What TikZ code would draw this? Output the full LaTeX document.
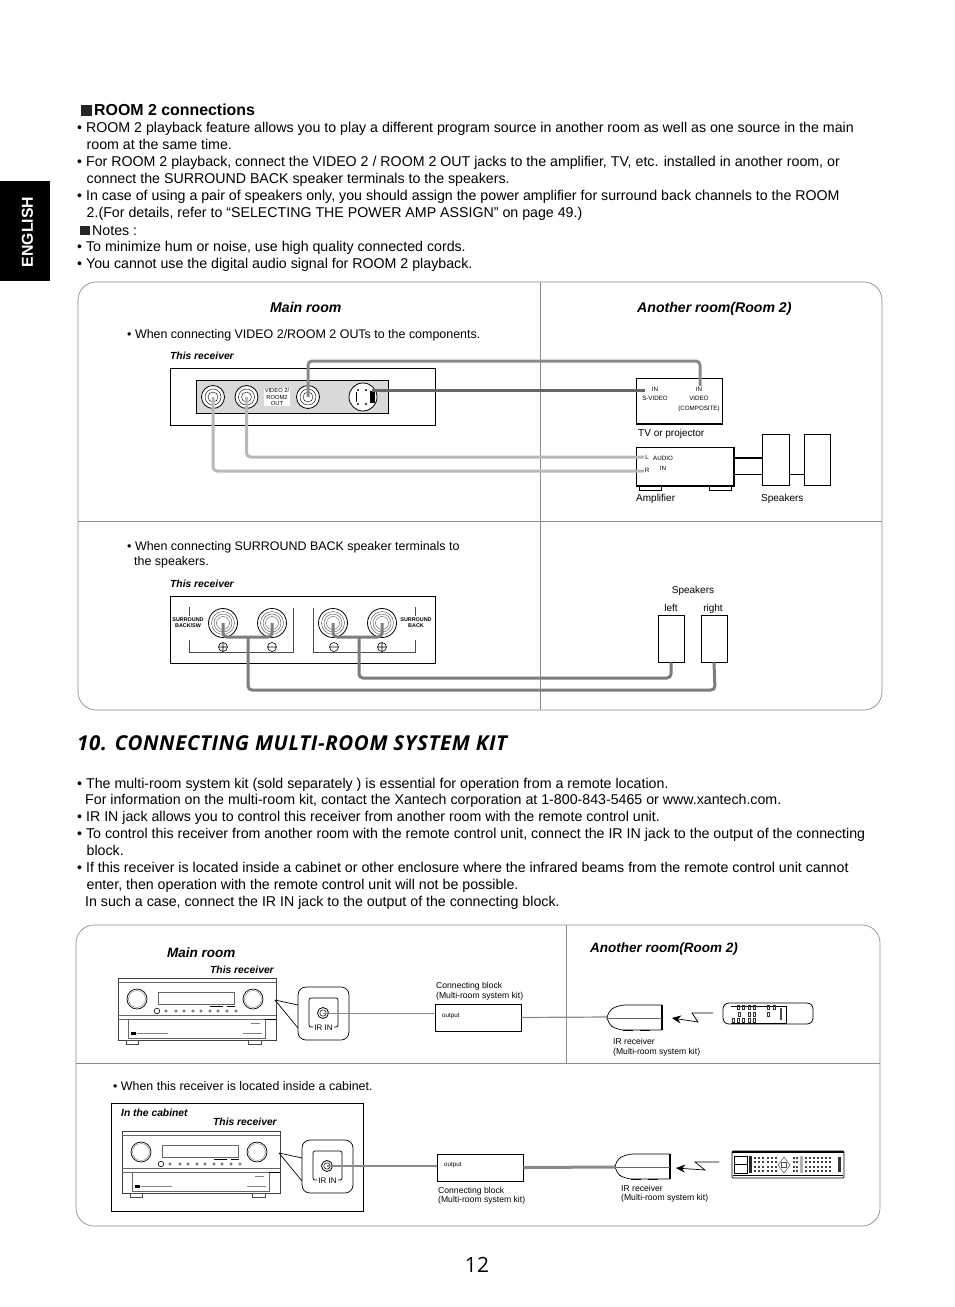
\documentclass[tikz,border=0pt]{standalone}
\usepackage{fontspec}
\setmainfont{Liberation Sans}
\newfontfamily\headfont[LetterSpace=3]{Open Sans}
\newfontfamily\numfont{Open Sans}
\usetikzlibrary{arrows.meta}

\definecolor{panelgray}{HTML}{8C8C8C}
\definecolor{cablelight}{HTML}{B8B8B8}
\definecolor{cablemid}{HTML}{8A8A8A}
\definecolor{cabledark}{HTML}{666666}
\definecolor{jackback}{HTML}{D9D9D9}

\tikzset{
  body/.style={anchor=base west, inner sep=0pt, font=\fontsize{14.2}{17}\selectfont},
  note/.style={anchor=base west, inner sep=0pt, font=\fontsize{12.45}{15}\selectfont},
  roomtitle/.style={anchor=base west, inner sep=0pt, font=\fontsize{13.5}{16}\selectfont\bfseries\itshape},
  recvtitle/.style={anchor=base west, inner sep=0pt, font=\fontsize{10.3}{12}\selectfont\bfseries\itshape},
  small/.style={anchor=base west, inner sep=0pt, font=\fontsize{10}{12}\selectfont},
  kittext/.style={anchor=base west, inner sep=0pt, font=\fontsize{8.6}{10}\selectfont},
  tiny/.style={anchor=base, inner sep=0pt, align=center, font=\fontsize{6.2}{8}\selectfont},
  panel/.style={draw=panelgray, line width=0.7pt},
  box/.style={draw, line width=1pt},
  jack/.style={circle, draw, line width=0.8pt, fill=white, inner sep=0pt},
  cablepale/.style={draw=cablelight, line width=3pt, rounded corners=4pt},
  cablegray/.style={draw=cablemid, line width=3pt, rounded corners=4pt},
  cableblack/.style={draw=cabledark, line width=3pt, rounded corners=4pt},
}

% front of the receiver with its IR IN callout
\newcommand{\receiverfront}[1]{%
\begin{scope}[shift={(#1)}]
\draw[line width=0.8pt, draw=black!75] (118,978) rectangle (276,1040);
\draw[draw=black!60] (118,982) -- (276,982);
\draw[draw=black!60] (118,1015) -- (276,1015);
\draw[draw=black!60] (118,1019) -- (128,1019) -- (128,1038) -- (265,1038) -- (265,1019) -- (128,1019);
\draw[line width=0.8pt] (265,1019) -- (276,1019);
\draw[line width=0.7pt] (137,999) circle (10);
\draw[draw=black!50] (137,999) circle (8.5);
\draw[line width=0.7pt] (253,999) circle (10);
\draw[draw=black!50] (253,999) circle (8.5);
\draw[draw=black!60] (158,992) rectangle (234,1004);
\draw[line width=0.6pt] (157,1011) circle (2.8);
\foreach \bx in {166,176,184,193,201,210,218,227,236}
  \draw[draw=black!70, line width=0.5pt] (\bx,1011) circle (1.3);
\draw[line width=0.6pt] (210,1006.5) -- (223,1006.5);
\draw[line width=0.6pt] (227,1006.5) -- (235,1006.5);
\fill (131,1032) rectangle (136,1035);
\draw[draw=black!50] (137,1033.5) -- (168,1033.5);
\draw[draw=black!50] (243,1033.5) -- (262,1033.5);
\draw[draw=black!50] (251,1023) -- (260,1023);
\draw[draw=black!70] (126,1040) rectangle (138,1044);
\draw[draw=black!70] (248,1040) rectangle (261,1044);
% callout
\draw[line width=0.7pt] (275,1000) -- (298,1005);
\draw[line width=0.7pt] (275,1000) -- (298,1028);
\draw[line width=0.7pt, fill=white, rounded corners=8pt] (298,987) rectangle (349,1040);
\draw[line width=0.7pt, rounded corners=2pt] (313,1027) -- (309,1027) -- (309,998) -- (338,998) -- (338,1027) -- (334,1027);
\node[jack, minimum size=11pt] (jack) at (323,1013) {};
\draw[line width=0.5pt] (jack.center) circle (3.2);
\node[anchor=base, inner sep=0pt, font=\fontsize{8}{9}\selectfont] (irin) at (323.5,1030) {IR IN};
\end{scope}}

% IR receiver of the kit
\newcommand{\irreceiver}[1]{%
\begin{scope}[shift={(#1)}]
\draw[line width=0.7pt, rounded corners=7pt] (662,1005) -- (618,1005) -- (607,1012) -- (607,1023) -- (617,1030) -- (662,1030);
\draw[line width=2pt] (662,1005) -- (662,1030);
\draw[draw=black!60, line width=1pt] (607,1018) -- (662,1018);
\draw[line width=1.6pt] (623,1030.5) -- (633,1030.5);
\draw[line width=1.6pt] (640,1030.5) -- (650,1030.5);
\end{scope}}

\begin{document}
\begin{tikzpicture}[x=1pt, y=-1pt]
\useasboundingbox (0,0) rectangle (954,1307);

% English tab
\fill (0,181) rectangle (50,281);
\node[rotate=90, text=white, inner sep=0pt, font=\fontsize{15.8}{18}\selectfont\bfseries] (tab) at (27.5,232) {ENGLISH};

% Room 2 text
\fill[black!85] (81,105) rectangle (92,116);
\node[anchor=base west, inner sep=0pt, font=\fontsize{15.9}{18}\selectfont\bfseries] (roomhead) at (94,115.5) {ROOM 2 connections};
\node[body] (r1) at (77,132) {• ROOM 2 playback feature allows you to play a different program source in another room as well as one source in the main};
\node[body] (r2) at (86.5,149) {room at the same time.};
\node[body] (r3) at (77,166) {• For ROOM 2 playback, connect the VIDEO 2 / ROOM 2 OUT jacks to the amplifier, TV, etc. installed in another room, or};
\node[body] (r4) at (86.5,183) {connect the SURROUND BACK speaker terminals to the speakers.};
\node[body] (r5) at (77,200) {• In case of using a pair of speakers only, you should assign the power amplifier for surround back channels to the ROOM};
\node[body] (r6) at (86.5,217) {2.(For details, refer to “SELECTING THE POWER AMP ASSIGN” on page 49.)};
\fill[black!85] (80,226) rectangle (90,235);
\node[body] (r7) at (92,235) {Notes :};
\node[body] (r8) at (77,251) {• To minimize hum or noise, use high quality connected cords.};
\node[body] (r9) at (77,268) {• You cannot use the digital audio signal for ROOM 2 playback.};

% First panel
\draw[panel, rounded corners=18pt] (78,282) rectangle (882,710);
\draw[panel] (540,282) -- (540,710);
\draw[panel] (78,521) -- (882,521);
\node[roomtitle, font=\fontsize{14.1}{16}\selectfont\bfseries\itshape] (mainA) at (270,312) {Main room};
\node[roomtitle, font=\fontsize{14.1}{16}\selectfont\bfseries\itshape] (otherA) at (637,312) {Another room(Room 2)};
\node[note] (noteA) at (127,338) {• When connecting VIDEO 2/ROOM 2 OUTs to the components.};
\node[recvtitle] (recvA) at (170,359) {This receiver};

% Video outputs
\draw[box] (170,368) rectangle (435,425);
\draw[line width=0.8pt, fill=jackback] (196,380) rectangle (388,413);
\node[jack, minimum size=23pt] (jackL) at (213,397) {};
\node[jack, minimum size=23pt] (jackR) at (246.5,397) {};
\node[jack, minimum size=23pt] (jackV) at (308,397) {};
\node[jack, minimum size=28pt] (jackS) at (363,397) {};
\draw (jackL.center) circle (8) circle (5);
\draw (jackR.center) circle (8) circle (5);
\draw (jackV.center) circle (8) circle (5);
\fill (370,391) rectangle (375,403);
\fill (358,390) circle (1.2) (366,390) circle (1.2) (358,404) circle (1.2) (366,404) circle (1.2);
\draw[line width=0.6pt] (356,392) -- (356,402);
\node[fill=white, inner sep=1pt, align=center, font=\fontsize{5.8}{6.2}\selectfont] (videolabel) at (277,397) {VIDEO 2/\\ROOM2\\OUT};

% TV or projector
\draw[line width=0.9pt] (636,378) -- (722,378) -- (722,424) -- (636,424) -- cycle;
\draw[line width=1.5pt] (636,424) -- (722,424);
\node[tiny] (tvA) at (655,391) {IN};
\node[tiny] (tvB) at (655,400) {S-VIDEO};
\node[tiny] (tvC) at (699,391) {IN};
\node[tiny] (tvD) at (699,400) {VIDEO};
\node[tiny] (tvE) at (699,410) {(COMPOSITE)};
\node[small] (tvname) at (638,436.5) {TV or projector};
\coordinate (tvS) at (645,390.5);
\coordinate (tvV) at (700,386);

% Amplifier and speakers
\draw[line width=0.9pt] (636,447) rectangle (734,486);
\draw[line width=1.5pt] (734,447) -- (734,486) -- (636,486);
\draw[line width=0.7pt] (639,486) -- (639,490) -- (661,490) -- (661,486);
\draw[line width=0.7pt] (709,486) -- (709,490) -- (731,490) -- (731,486);
\node[tiny] (ampL) at (647,459.5) {L};
\node[tiny] (ampR) at (647,472.5) {R};
\node[tiny] (ampA) at (663,460.5) {AUDIO};
\node[tiny] (ampB) at (663,470.5) {IN};
\coordinate (inL) at (644,457);
\coordinate (inR) at (644,471);
\node[small] (ampname) at (636,501) {Amplifier};
\node[small] (spkname) at (761,501) {Speakers};
\node[draw, line width=0.9pt, minimum width=27pt, minimum height=51pt, inner sep=0pt] (spkA) at (775.5,459.5) {};
\node[draw, line width=0.9pt, minimum width=26pt, minimum height=51pt, inner sep=0pt] (spkB) at (817,459.5) {};
\coordinate (ampout) at (734,458);
\draw[line width=2pt] (ampout) -- (ampout -| spkA.west);
\draw[line width=0.8pt] (734,474) -- (762,474);
\draw[line width=0.8pt] (789,474) -- (804,474);

% Video cables
\draw[cablepale] (jackL.center) -- (213,471) -- (inR);
\draw[cablepale] (jackR.center) -- (246.5,457) -- (inL);
\draw[cablegray] (jackV.center) -- (308,361) -- (700,361) -- (tvV);
\draw[cableblack] (372,390.5) -- (tvS);

% Surround back terminals
\node[note] (noteB) at (127,550) {• When connecting SURROUND BACK speaker terminals to};
\node[note] (noteC) at (134,565) {the speakers.};
\node[recvtitle] (recvB) at (170,587) {This receiver};
\draw[box] (170,596) rectangle (435,663);
\draw[draw=black!70] (189,607) -- (189,616);
\draw[draw=black!70] (189,640) -- (189,652) -- (293,652) -- (293,608);
\draw[draw=black!70] (313,608) -- (313,652) -- (415,652) -- (415,640);
\draw[draw=black!70] (415,607) -- (415,616);
\node[jack, minimum size=29pt] (termA) at (223,623) {};
\node[jack, minimum size=29pt] (termB) at (272,623) {};
\node[jack, minimum size=29pt] (termC) at (333,623) {};
\node[jack, minimum size=29pt] (termD) at (382,623) {};
\foreach \t in {termA,termB,termC,termD}
  \draw[draw=black!70] (\t.center) circle (11.5) circle (9) circle (6.5);
\node[fill=white, inner sep=0.5pt, align=center, font=\fontsize{5.4}{6}\selectfont\bfseries] (labelA) at (188,623) {SURROUND\\BACK/SW};
\node[fill=white, inner sep=0.5pt, align=center, font=\fontsize{5.4}{6}\selectfont\bfseries] (labelB) at (416,623) {SURROUND\\BACK};
\draw[line width=0.6pt] (223,647) circle (4.5) (218.5,647) -- (227.5,647) (223,642.5) -- (223,651.5);
\draw[line width=0.6pt] (272,647) circle (4.5) (267.5,647) -- (276.5,647);
\draw[line width=0.6pt] (334,647) circle (4.5) (329.5,647) -- (338.5,647);
\draw[line width=0.6pt] (382,647) circle (4.5) (377.5,647) -- (386.5,647) (382,642.5) -- (382,651.5);

% Speakers left and right
\node[small, anchor=base] (spknameB) at (693,593) {Speakers};
\node[small, anchor=base] (spkleft) at (671,611) {left};
\node[small, anchor=base] (spkright) at (713,611) {right};
\node[draw, line width=0.9pt, minimum width=26pt, minimum height=47pt, inner sep=0pt] (spkL) at (671,638.5) {};
\node[draw, line width=0.9pt, minimum width=26pt, minimum height=47pt, inner sep=0pt] (spkR) at (714,638.5) {};
\draw[cablegray, draw=cabledark!85] (termA.center) -- (223,637) -- (272,637) -- (termB.center);
\draw[cablegray, draw=cabledark!85] (termC.center) -- (333,637) -- (382,637) -- (termD.center);
\draw[cablegray, draw=cabledark!85] (248,637) -- (248,690) -- (715,690) -- (spkR.south);
\draw[cablegray, draw=cabledark!85] (359,637) -- (359,678) -- (671,678) -- (spkL.south);

% Section title
\node[anchor=base west, inner sep=0pt, font=\fontsize{20.5}{24}\headfont\bfseries\itshape] (section) at (77,750) {10. CONNECTING MULTI-ROOM SYSTEM KIT};

% Multi-room text
\node[body] (m1) at (77,788) {• The multi-room system kit (sold separately ) is essential for operation from a remote location.};
\node[body] (m2) at (85,804) {For information on the multi-room kit, contact the Xantech corporation at 1-800-843-5465 or www.xantech.com.};
\node[body] (m3) at (77,821) {• IR IN jack allows you to control this receiver from another room with the remote control unit.};
\node[body] (m4) at (77,838) {• To control this receiver from another room with the remote control unit, connect the IR IN jack to the output of the connecting};
\node[body] (m5) at (86.5,855) {block.};
\node[body] (m6) at (77,872) {• If this receiver is located inside a cabinet or other enclosure where the infrared beams from the remote control unit cannot};
\node[body] (m7) at (86.5,889) {enter, then operation with the remote control unit will not be possible.};
\node[body] (m8) at (85,906) {In such a case, connect the IR IN jack to the output of the connecting block.};

% Second panel
\draw[panel, rounded corners=18pt] (76,925) rectangle (880,1226);
\draw[panel] (566,925) -- (566,1063);
\draw[panel] (76,1063) -- (880,1063);
\node[roomtitle] (mainB) at (167,957) {Main room};
\node[roomtitle] (otherB) at (590,952) {Another room(Room 2)};
\node[recvtitle] (recvC) at (210,973.5) {This receiver};

% Main room, first row
\begin{scope}[name prefix=up]
\receiverfront{0,0}
\end{scope}
\node[draw, line width=0.9pt, minimum width=86pt, minimum height=27pt, inner sep=0pt] (blockA) at (478,1017.5) {};
\node[tiny, anchor=base west] (outA) at (442,1017) {output};
\node[kittext] (blockAa) at (436,988) {Connecting block};
\node[kittext] (blockAb) at (436,998) {(Multi-room system kit)};
\coordinate (irA) at (607,1017);
\irreceiver{0,0}
\draw[draw=cablemid, line width=0.8pt] (upjack.center) -- (upjack.center -| blockA.west);
\draw[draw=cablemid, line width=1.2pt] (blockA.east) -- (irA);
\node[kittext] (irAa) at (613,1044) {IR receiver};
\node[kittext] (irAb) at (613,1054) {(Multi-room system kit)};
\draw[line width=0.7pt, -{Stealth[length=9pt,width=8pt]}] (713,1013) -- (692,1013) -- (698,1022) -- (672,1018);

% Remote, first row
\draw[line width=0.8pt, rounded corners=6pt] (723,1003) rectangle (813,1024);
\draw[line width=0.4pt] (731,1006) -- (786,1006) -- (786,1023) -- (731,1023);
\foreach \bx/\by in {738/1007,743/1007,749/1007,754/1007,768/1007,774/1007,739/1014,749/1014,754/1014,768/1014,733/1020,738/1020,743/1020,749/1020,754/1020}
  \draw[line width=0.35pt, draw=black!80] (\bx-1.3,\by-1.8) rectangle (\bx+1.3,\by+1.8);
\fill[black!70] (780,1008) rectangle (782,1020);

% Cabinet row
\node[note, font=\fontsize{12.4}{15}\selectfont] (noteD) at (113,1090) {• When this receiver is located inside a cabinet.};
\draw[box] (111,1103) rectangle (363,1211);
\node[recvtitle] (inside) at (121,1116.5) {In the cabinet};
\node[recvtitle] (recvD) at (213,1125.5) {This receiver};
\begin{scope}[name prefix=low]
\receiverfront{4,153}
\end{scope}
\node[draw, line width=0.9pt, minimum width=86pt, minimum height=27pt, inner sep=0pt] (blockB) at (480,1167.5) {};
\node[tiny, anchor=base west] (outB) at (444,1166.5) {output};
\node[kittext] (blockBa) at (438,1193) {Connecting block};
\node[kittext] (blockBb) at (438,1202) {(Multi-room system kit)};
\coordinate (irB) at (615,1167);
\irreceiver{8,149}
\draw[draw=cablemid, line width=1.6pt] (lowjack.center) -- (lowjack.center -| blockB.west);
\draw[draw=cablemid, line width=3pt] (blockB.east) -- (irB);
\node[kittext] (irBa) at (621,1191) {IR receiver};
\node[kittext] (irBb) at (621,1200) {(Multi-room system kit)};
\draw[line width=0.7pt, -{Stealth[length=9pt,width=8pt]}] (719,1162) -- (695,1162) -- (705,1170) -- (676,1168);

% Remote, cabinet row
\draw[line width=0.7pt, rounded corners=1pt] (732,1151) rectangle (844,1178);
\draw[line width=1.6pt] (732,1152) -- (844,1152);
\draw[line width=1.2pt] (733,1175.5) -- (843,1175.5);
\draw[line width=0.6pt] (734,1156) rectangle (747,1173);
\draw (734,1164.5) -- (747,1164.5);
\fill[black!85] (749,1156) rectangle (752,1173);
\foreach \by in {1158,1162,1167,1171} {
  \foreach \bx in {755,759,763,768,772,776,794,797,806,810,814,818,822,826,830}
    \fill[black!75] (\bx-1.2,\by-1) rectangle (\bx+1.2,\by+1);
}
\draw[line width=0.5pt, draw=black!70] (784,1157) -- (790,1165) -- (784,1173) -- (778,1165) -- cycle;
\draw[line width=0.5pt, draw=black!70] (781.5,1162.5) rectangle (786.5,1167.5);
\fill[black!30] (800,1156) rectangle (803,1173);
\fill[black!80] (838,1157) rectangle (841,1172);

% Page number
\node[inner sep=0pt, font=\fontsize{21}{24}\numfont] (pagenum) at (477,1265) {12};
\end{tikzpicture}
\end{document}
